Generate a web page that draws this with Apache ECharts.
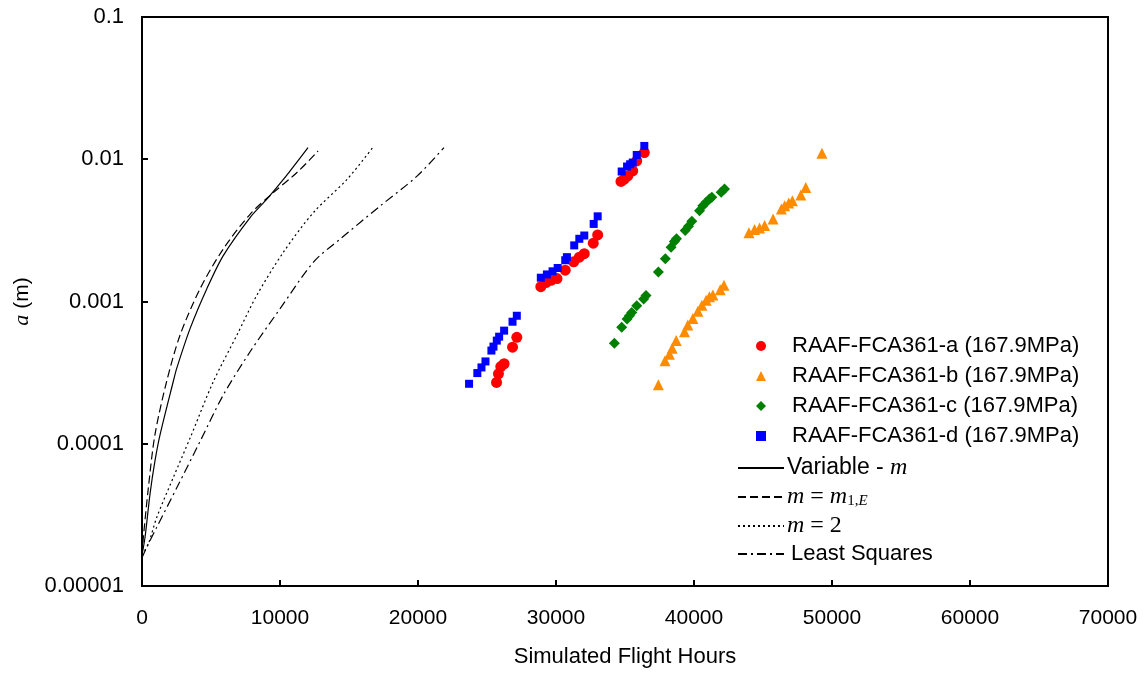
<!DOCTYPE html>
<html>
<head>
<meta charset="utf-8">
<script src="https://cdn.jsdelivr.net/npm/echarts@6/dist/echarts.min.js"></script>
<style>
  html, body { margin: 0; padding: 0; background: #fff; }
  #main { width: 1148px; height: 673px; }
</style>
</head>
<body>
<div id="main"></div>
<script>
// test data (x = simulated flight hours, y = crack depth a in m)
var aHours = [25690, 25830, 26000, 26240, 26850, 27160,
  28900, 29270, 29630, 30070, 30670, 31280, 31690, 32050, 32700, 33020,
  34710, 34950, 35200, 35560, 35850, 36400];
var aDepth = [0.00027, 0.00031, 0.000349, 0.000365, 0.000477, 0.00056,
  0.00127, 0.00136, 0.00141, 0.00145, 0.00166, 0.0019, 0.00205, 0.00217, 0.00257, 0.00294,
  0.00698, 0.00724, 0.00764, 0.00828, 0.00973, 0.01114];

var bHours = [37420, 37900, 38220, 38420, 38710, 39310, 39550, 39920, 40280, 40570, 40880, 41120, 41370, 41900, 42170,
  43980, 44390, 44750, 45120, 45730, 46330, 46570, 46860, 47130, 47740, 48100, 49270];
var bDepth = [0.00026, 0.000383, 0.000426, 0.000469, 0.000531, 0.000614, 0.000683, 0.00076, 0.000855, 0.000942, 0.00102, 0.00108, 0.00111, 0.00121, 0.0013,
  0.00304, 0.00321, 0.00329, 0.00342, 0.0038, 0.00447, 0.00471, 0.00492, 0.0051, 0.0056, 0.00634, 0.0110];

var cHours = [34230, 34760, 35150, 35320, 35490, 35850, 36350, 36520, 37420, 37920, 38340, 38580, 38730,
  39360, 39600, 39840, 40400, 40640, 40880, 41120, 41290, 41970, 42210];
var cDepth = [0.000508, 0.000658, 0.000752, 0.000794, 0.000838, 0.000933, 0.00104, 0.0011, 0.00161, 0.002, 0.00241, 0.00264, 0.00276,
  0.00315, 0.00338, 0.00367, 0.00435, 0.00471, 0.00498, 0.00525, 0.0054, 0.00585, 0.00617];

var dHours = [23700, 24300, 24600, 24890, 25320, 25470, 25710, 25880, 26240, 26850, 27160,
  28900, 29340, 29750, 30120, 30670, 30790, 31320, 31690, 32050, 32730, 33020,
  34760, 35150, 35370, 35560, 35850, 36400];
var dDepth = [0.000264, 0.000314, 0.000344, 0.000379, 0.000452, 0.000482, 0.000531, 0.000566, 0.000624, 0.000721, 0.000794,
  0.00147, 0.00155, 0.00163, 0.00172, 0.00195, 0.00205, 0.00248, 0.00276, 0.00291, 0.00351, 0.00397,
  0.0082, 0.00889, 0.00922, 0.00948, 0.01072, 0.0124];

// model predictions
var varHours = [0, 220, 580, 940, 1310, 2270, 2520, 3490, 4700, 5900, 7845, 9050, 10260, 12030];
var varDepth = [0.0000165, 0.000022, 0.0000443, 0.0000757, 0.000116, 0.000275, 0.00034, 0.000647, 0.00123, 0.00211, 0.00391, 0.00525, 0.00724, 0.01208];

var m1eHours = [0, 100, 460, 940, 1790, 2760, 4210, 5900, 7845, 9540, 11230, 12760];
var m1eDepth = [0.0000165, 0.000022, 0.000049, 0.000116, 0.000275, 0.000581, 0.00123, 0.00235, 0.00412, 0.00585, 0.00807, 0.01143];

var m2Hours = [0, 460, 1070, 2270, 3490, 5180, 6880, 8330, 10260, 12440, 14870, 16720];
var m2Depth = [0.0000165, 0.0000198, 0.0000304, 0.000058, 0.00011, 0.000275, 0.000581, 0.00111, 0.00223, 0.00424, 0.00724, 0.01208];

var lsqHours = [0, 340, 1070, 2520, 4210, 5900, 7845, 10020, 12440, 14380, 17280, 19950, 21880];
var lsqDepth = [0.0000158, 0.0000187, 0.0000259, 0.000049, 0.000104, 0.000221, 0.000445, 0.000894, 0.0019, 0.00276, 0.00471, 0.00764, 0.01208];

var xTicks = [0, 10000, 20000, 30000, 40000, 50000, 60000, 70000];
var yTicks = ['0.00001', '0.0001', '0.001', '0.01', '0.1'];

var scatterNames = ['RAAF-FCA361-a (167.9MPa)', 'RAAF-FCA361-b (167.9MPa)',
  'RAAF-FCA361-c (167.9MPa)', 'RAAF-FCA361-d (167.9MPa)'];
var lineNames = ['Variable - m', 'm = m1,E', 'm = 2', 'Least Squares'];

function pairs(xs, ys) {
  return xs.map(function (x, i) { return [x, ys[i]]; });
}

var chart = echarts.init(document.getElementById('main'));
var sans = 'Liberation Sans, Arial, sans-serif';
var serif = 'Liberation Serif, Times New Roman, serif';

function scatter(name, xs, ys, color, symbol, size) {
  return {
    name: name, type: 'scatter', data: pairs(xs, ys),
    symbol: symbol, symbolSize: size,
    itemStyle: { color: color, opacity: 1 }
  };
}
function curve(name, xs, ys, dash) {
  return {
    name: name, type: 'line', data: pairs(xs, ys), smooth: 0.3,
    showSymbol: false, symbol: 'none',
    lineStyle: { color: '#000', width: 1.2, type: dash },
    itemStyle: { color: '#000' }
  };
}

var option = {
  backgroundColor: '#fff',
  animation: false,
  grid: { left: 142, right: 40, top: 17, bottom: 85, show: true, borderColor: '#000', borderWidth: 2 },
  xAxis: {
    type: 'value', min: xTicks[0], max: xTicks[xTicks.length - 1], interval: 10000,
    name: 'Simulated Flight Hours', nameLocation: 'middle', nameGap: 60,
    nameTextStyle: { fontFamily: sans, fontSize: 22, color: '#000' },
    axisLine: { lineStyle: { color: '#000', width: 2 } },
    axisTick: { inside: true, length: 6, lineStyle: { color: '#000', width: 2 } },
    axisLabel: { fontFamily: sans, fontSize: 21, color: '#000', margin: 22,
      formatter: function (v) { return String(v); } },
    splitLine: { show: false }
  },
  yAxis: {
    type: 'log', logBase: 10, min: Number(yTicks[0]), max: Number(yTicks[yTicks.length - 1]),
    name: '{i|a} (m)', nameLocation: 'middle', nameGap: 109,
    nameTextStyle: { fontFamily: sans, fontSize: 21, color: '#000',
      rich: { i: { fontFamily: serif, fontStyle: 'italic', fontSize: 22, color: '#000' } } },
    axisLine: { lineStyle: { color: '#000', width: 2 } },
    axisTick: { inside: true, length: 6, lineStyle: { color: '#000', width: 2 } },
    axisLabel: {
      fontFamily: sans, fontSize: 22, color: '#000', margin: 18,
      formatter: function (v) {
        var d = Math.round(-Math.log10(v));
        return v.toFixed(d);
      }
    },
    splitLine: { show: false }
  },
  legend: [
    {
      data: scatterNames, orient: 'vertical', left: 756, top: 335, padding: 0,
      itemWidth: 10, itemHeight: 10, itemGap: 8,
      textStyle: { fontFamily: sans, fontSize: 22, color: '#000', padding: [0, 0, 0, 21] }
    },
    {
      data: lineNames, orient: 'vertical', left: 737, top: 456, padding: 0,
      itemWidth: 46, itemHeight: 14, itemGap: 5,
      itemStyle: { color: 'transparent', opacity: 0, borderWidth: 0 },
      formatter: function (n) {
        if (n === 'Variable - m') return '{b|Variable - }{i|m}';
        if (n === 'm = m1,E') return '{i|m}{s| = }{i|m}{sub|1,}{isub|E}';
        if (n === 'm = 2') return '{i|m}{s| = 2}';
        return '{t|Least Squares}';
      },
      textStyle: {
        fontFamily: sans, fontSize: 22, color: '#000', padding: [0, 0, 0, -2],
        rich: {
          b: { fontFamily: sans, fontSize: 23, color: '#000', lineHeight: 22 },
          t: { fontFamily: sans, fontSize: 22, color: '#000', lineHeight: 22, padding: [0, 0, 0, 4] },
          i: { fontFamily: serif, fontStyle: 'italic', fontSize: 24, color: '#000', lineHeight: 22 },
          s: { fontFamily: serif, fontSize: 24, color: '#000', lineHeight: 22 },
          sub: { fontFamily: serif, fontSize: 15, color: '#000', lineHeight: 14, padding: [8, 0, 0, 0] },
          isub: { fontFamily: serif, fontStyle: 'italic', fontSize: 15, color: '#000', lineHeight: 14, padding: [8, 0, 0, 0] }
        }
      }
    }
  ],
  series: [
    scatter(scatterNames[0], aHours, aDepth, '#ff0000', 'circle', 11),
    scatter(scatterNames[1], bHours, bDepth, '#ff8c00', 'triangle', 11),
    scatter(scatterNames[2], cHours, cDepth, '#008000', 'diamond', 11),
    scatter(scatterNames[3], dHours, dDepth, '#0000ff', 'rect', 8),
    curve(lineNames[0], varHours, varDepth, 'solid'),
    curve(lineNames[1], m1eHours, m1eDepth, [8, 4]),
    curve(lineNames[2], m2Hours, m2Depth, [2, 3]),
    curve(lineNames[3], lsqHours, lsqDepth, [9, 4, 2, 4])
  ]
};

chart.setOption(option);
</script>
</body>
</html>
